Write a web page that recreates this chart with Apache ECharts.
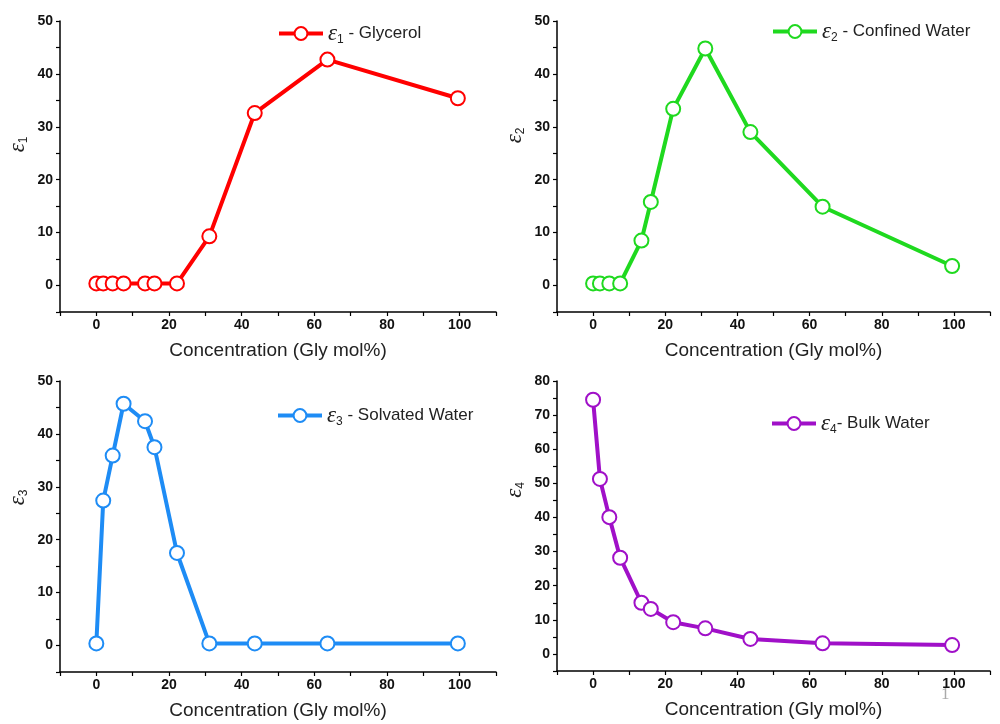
<!DOCTYPE html>
<html>
<head>
<meta charset="utf-8">
<script src="https://cdn.jsdelivr.net/npm/echarts@6/dist/echarts.min.js"></script>
<style>
  html, body { margin: 0; padding: 0; background: #fff; }
  #chart { width: 1000px; height: 724px; }
</style>
</head>
<body>
<div id="chart"></div>
<script>
// Gly concentration (mol%) shared by all four panels
const conc = [0, 1.9, 4.5, 7.5, 13.4, 16, 22.2, 31.1, 43.6, 63.6, 99.5];

const eps1 = [0.4, 0.4, 0.4, 0.4, 0.4, 0.4, 0.4, 9.3, 32.6, 42.7, 35.4];
const eps2 = [0.4, 0.4, 0.4, 0.4, 8.5, 15.8, 33.4, 44.8, 29.0, 14.9, 3.7];
const eps3 = [0.4, 27.4, 35.9, 45.7, 42.4, 37.5, 17.5, 0.4, 0.4, 0.4, 0.4];
const eps4 = [74.5, 51.3, 40.1, 28.2, 15.0, 13.2, 9.3, 7.5, 4.4, 3.1, 2.6];

const legendTexts = [' - Glycerol', ' - Confined Water', ' - Solvated Water', '- Bulk Water'];
const yMax = [50, 50, 50, 80];

const allEps = [eps1, eps2, eps3, eps4];
const colors = ['#ff0000', '#1fd91f', '#1e8cf5', '#a010c8'];

// panel boxes
const grids = [
  { left: 60, top: 21, width: 436, height: 291 },
  { left: 557, top: 21, width: 433, height: 291 },
  { left: 60, top: 381, width: 436, height: 291 },
  { left: 557, top: 381, width: 433, height: 290 }
];
const legendPos = [
  { left: 277, top: 22 },
  { left: 771, top: 20 },
  { left: 276, top: 404 },
  { left: 770, top: 412 }
];
const yNameShift = [44, 62, 58, 72];

const rich = {
  e: { fontFamily: 'Liberation Serif', fontStyle: 'italic', fontSize: 23, lineHeight: 24, color: '#222' },
  s: { fontFamily: 'Liberation Sans', fontSize: 12, lineHeight: 10, verticalAlign: 'bottom', color: '#222' },
  t: { fontFamily: 'Liberation Sans', fontSize: 17, lineHeight: 24, color: '#222' }
};

const chart = echarts.init(document.getElementById('chart'));

const xAxis = [], yAxis = [], series = [], legend = [];
grids.forEach((g, i) => {
  xAxis.push({
    type: 'value', gridIndex: i, min: -10, max: 110, interval: 10,
    name: 'Concentration (Gly mol%)', nameLocation: 'middle', nameGap: 29,
    nameTextStyle: { fontFamily: 'Liberation Sans', fontSize: 19, color: '#222' },
    axisLine: { onZero: false, lineStyle: { color: '#000', width: 1.5 } },
    axisTick: { inside: false, length: 4, lineStyle: { color: '#000', width: 1.2 } },
    axisLabel: {
      margin: 6, fontFamily: 'Liberation Sans', fontWeight: 'bold', fontSize: 14, color: '#111',
      formatter: v => (v >= 0 && v <= 100 && v % 20 === 0) ? String(v) : ''
    },
    splitLine: { show: false }
  });
  yAxis.push({
    type: 'value', gridIndex: i, min: -5, max: yMax[i], interval: 5,
    name: '{e|ε}{s|' + (i + 1) + '}', nameLocation: 'middle', nameGap: 30, nameRotate: 90,
    nameTextStyle: { rich: rich, padding: [0, 0, 0, yNameShift[i]] },
    axisLine: { show: true, onZero: false, lineStyle: { color: '#000', width: 1.5 } },
    axisTick: { show: true, inside: false, length: 4, lineStyle: { color: '#000', width: 1.2 } },
    axisLabel: {
      margin: 7, fontFamily: 'Liberation Sans', fontWeight: 'bold', fontSize: 14, color: '#111',
      formatter: v => (v >= 0 && v % 10 === 0) ? String(v) : ''
    },
    splitLine: { show: false }
  });
  series.push({
    name: 'eps' + (i + 1),
    type: 'line', xAxisIndex: i, yAxisIndex: i,
    data: conc.map((c, k) => [c, allEps[i][k]]),
    symbol: 'circle', symbolSize: 14,
    lineStyle: { color: colors[i], width: 4 },
    itemStyle: { color: '#fff', borderColor: colors[i], borderWidth: 2 }
  });
  legend.push({
    data: ['eps' + (i + 1)],
    left: legendPos[i].left, top: legendPos[i].top,
    padding: 0, itemWidth: 44, itemHeight: 16,
    selectedMode: false,
    lineStyle: { width: 4 },
    itemStyle: { borderWidth: 2 },
    formatter: () => '{e|ε}{s|' + (i + 1) + '}{t|' + legendTexts[i] + '}',
    textStyle: { rich: rich }
  });
});

chart.setOption({
  animation: false,
  backgroundColor: '#fff',
  grid: grids,
  xAxis: xAxis,
  yAxis: yAxis,
  legend: legend,
  series: series,
  graphic: [{
    type: 'text', left: 941, top: 686,
    style: { text: '1', fontFamily: 'Liberation Serif', fontSize: 17, fill: '#aaa' }
  }]
});
</script>
</body>
</html>
